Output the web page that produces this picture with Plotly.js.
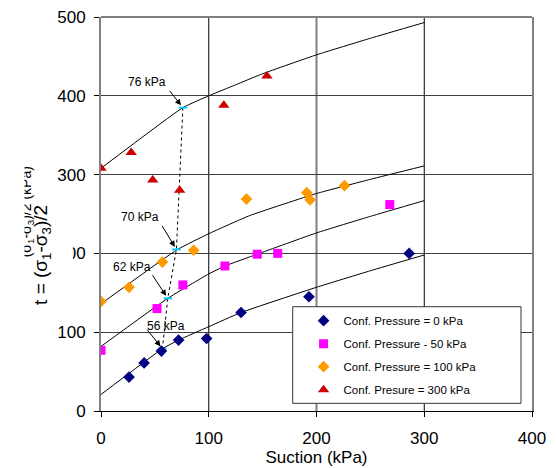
<!DOCTYPE html>
<html>
<head>
<meta charset="utf-8">
<script src="https://cdn.plot.ly/plotly-3.0.1.min.js"></script>
<style>html,body{margin:0;padding:0;background:#fff;}#chart{width:556px;height:468px;}</style>
</head>
<body>
<div id="chart"></div>
<script>
// ---- data ----
const xTicks = [0, 100, 200, 300, 400];
const yTicks = [0, 100, 200, 300, 400, 500];

const seriesNames = ['Conf. Pressure = 0 kPa', 'Conf. Pressure - 50 kPa', 'Conf. Pressure = 100 kPa', 'Conf. Presure = 300 kPa'];

const suction0 = [26, 40, 56, 72, 98, 130, 193, 286];
const t0 = [43, 61, 76, 90, 92, 125, 145, 200];

const suction50 = [0, 52, 76, 115, 145, 164, 268];
const t50 = [77, 130, 160, 184, 199, 200, 262];

const suction100 = [0, 26, 57, 86, 135, 191, 194, 226];
const t100 = [139, 157, 189, 204, 269, 277, 268, 286];

const suction300 = [0, 28, 48, 73, 114, 154];
const t300 = [308, 328, 293, 280, 388, 425];

// fitted curves
const fit0X = [0, 57, 72, 100, 130, 200, 250, 300];
const fit0Y = [21, 79, 90, 107, 125, 157, 178, 198];
const fit50X = [0, 62, 100, 115, 145, 200, 250, 300];
const fit50Y = [82, 143, 174, 184, 199, 226, 247, 267];
const fit100X = [0, 71, 100, 138, 200, 250, 300];
const fit100Y = [136, 205, 225, 248, 276, 294, 311];
const fit300X = [0, 76, 100, 125, 150, 200, 250, 300];
const fit300Y = [308, 385, 400, 414, 428, 452, 473, 493];

// intersection points and their labels
const interX = [76, 70, 62, 57];
const interY = [385, 205, 143, 79];
const interLabels = ['76 kPa', '70 kPa', '62 kPa', '56 kPa'];

// ---- styling / layout ----
const FONT = 'Liberation Sans, Arial, sans-serif';
const colors = ['#000080', '#FF00FF', '#FF9900', '#CC0000'];
const symbols = ['diamond', 'square', 'diamond', 'triangle-up'];
const sizes = [9, 9, 9, 10];

const pts = [[suction0, t0], [suction50, t50], [suction100, t100], [suction300, t300]];
const fits = [[fit0X, fit0Y], [fit50X, fit50Y], [fit100X, fit100Y], [fit300X, fit300Y]];

const traces = [];
fits.forEach(function (f) {
  traces.push({
    x: f[0], y: f[1], mode: 'lines', type: 'scatter', showlegend: false, hoverinfo: 'skip',
    line: { color: '#000', width: 1, shape: 'spline', smoothing: 0.4 }
  });
});
traces.push({
  x: interX, y: interY, mode: 'lines+markers', type: 'scatter', showlegend: false,
  line: { color: '#000', width: 1, dash: 'dot' },
  marker: { symbol: 'line-ew', size: 6, line: { color: '#00CCFF', width: 2 } }
});
pts.forEach(function (p, i) {
  traces.push({
    x: p[0], y: p[1], mode: 'markers', type: 'scatter', name: seriesNames[i],
    legendgroup: 'g' + i,
    marker: { symbol: symbols[i], size: sizes[i], color: colors[i] }
  });
});

// label layout (text centre and arrow tail, data units)
const labelPos = [[43, 417], [36, 246], [29, 183], [60, 108]];
const tailPos = [[61, 411], [54, 241], [45, 178], [40, 108]];

const annotations = [];
interX.forEach(function (x, i) {
  annotations.push({
    x: x, y: interY[i], xref: 'x', yref: 'y', ax: tailPos[i][0], ay: tailPos[i][1], axref: 'x', ayref: 'y',
    text: ' ', showarrow: true, arrowhead: 2, arrowsize: 1.2, arrowwidth: 1, arrowcolor: '#000', standoff: 3
  });
  annotations.push({
    x: labelPos[i][0], y: labelPos[i][1], xref: 'x', yref: 'y', text: interLabels[i], showarrow: false,
    font: { family: FONT, size: 12, color: '#000' }
  });
});

// y axis titles (main, plus the clipped overlapping one)
annotations.push({
  xref: 'paper', yref: 'paper', x: -0.136, y: 0.396, xanchor: 'center', yanchor: 'middle',
  text: 't = (σ<sub>1</sub>-σ<sub>3</sub>)/2', textangle: -90, showarrow: false,
  bgcolor: '#fff', width: 125, height: 58,
  font: { family: FONT, size: 19, color: '#000' }
});
annotations.push({
  xref: 'paper', yref: 'paper', x: -0.171, y: 0.505, xanchor: 'center', yanchor: 'middle',
  text: '(σ<sub>1</sub>-σ<sub>3</sub>)/2 (kPa)', textangle: -90, showarrow: false,
  font: { family: FONT, size: 14, color: '#000' }
});
annotations.push({
  xref: 'paper', yref: 'paper', x: -0.2079, y: 0.505, xanchor: 'center', yanchor: 'middle',
  text: '&nbsp;', showarrow: false, bgcolor: '#ffffff', width: 24, height: 130,
  font: { family: FONT, size: 10, color: '#fff' }
});

const shapes = [];
xTicks.forEach(function (v) {
  if (v > 0 && v < 400) {
    shapes.push({
      type: 'line', xref: 'x', yref: 'paper', x0: v, x1: v, y0: 0, y1: 1, layer: 'below',
      line: { color: v === 200 ? '#808080' : '#000', width: v === 200 ? 2 : 1 }
    });
  }
});
shapes.push({
  type: 'line', xref: 'paper', yref: 'paper', x0: 0, x1: 1, y0: 1, y1: 1,
  line: { color: '#808080', width: 2 }
});
// legend frame
shapes.push({
  type: 'rect', xref: 'paper', yref: 'paper', x0: 0.4448, x1: 0.9745, y0: 0.0195, y1: 0.2647,
  layer: 'above', fillcolor: '#fff', line: { color: '#333', width: 1 }
});

const layout = {
  width: 556, height: 468,
  margin: { l: 101, r: 24, t: 17, b: 57 },
  paper_bgcolor: '#fff', plot_bgcolor: '#fff',
  font: { family: FONT, color: '#000' },
  showlegend: true,
  legend: {
    x: 0.47, y: 0.266, xanchor: 'left', yanchor: 'top',
    bgcolor: 'rgba(0,0,0,0)', borderwidth: 0, tracegroupgap: 4,
    font: { family: FONT, size: 11.5, color: '#000' }
  },
  xaxis: {
    range: [0, 400], tickvals: xTicks, ticktext: xTicks.map(String),
    ticks: 'outside', ticklen: 5, tickcolor: '#000',
    showline: true, linecolor: '#000', linewidth: 1,
    showgrid: false, zeroline: false, ticklabelstandoff: 7,
    tickfont: { family: FONT, size: 17, color: '#000' },
    title: { text: 'Suction (kPa)', font: { family: FONT, size: 17, color: '#000' }, standoff: 3 }
  },
  yaxis: {
    range: [0, 500], tickvals: yTicks, ticktext: yTicks.map(String),
    ticks: 'outside', ticklen: 5, tickcolor: '#000',
    showline: true, linecolor: '#808080', linewidth: 2, mirror: true,
    showgrid: true, gridcolor: '#404040', gridwidth: 1, zeroline: false,
    ticklabelstandoff: 5,
    tickfont: { family: FONT, size: 17, color: '#000' }
  },
  annotations: annotations,
  shapes: shapes
};

Plotly.newPlot('chart', traces, layout, { displayModeBar: false, staticPlot: true });
</script>
</body>
</html>
